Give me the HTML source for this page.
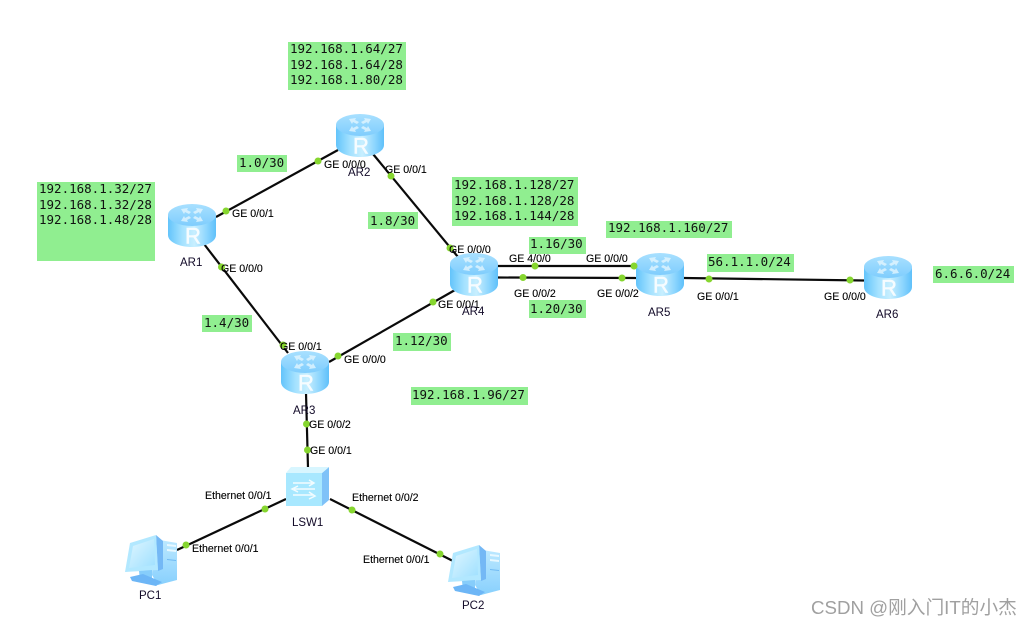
<!DOCTYPE html>
<html lang="zh">
<head>
<meta charset="utf-8">
<title>Network topology</title>
<style>
html,body{margin:0;padding:0;background:#fff;width:1033px;height:627px;overflow:hidden}
svg{display:block}
.b{fill:#90ee90}
.m{font-family:"DejaVu Sans Mono","Liberation Mono",monospace;font-size:12.5px;fill:#111}
.l{font-family:"Liberation Sans",Arial,sans-serif;font-size:10.6px;fill:#000;stroke:#000;stroke-width:.12}
.n{font-family:"Liberation Sans",Arial,sans-serif;font-size:11.5px;fill:#120a28}
.w{font-family:"Liberation Sans","Noto Sans CJK SC",sans-serif;font-size:18.7px;fill:#a0a0a0}
.c{stroke:#0a0a0a;stroke-width:2.200;fill:none}
.d{fill:#86d62f}
</style>
</head>
<body>
<svg width="1033" height="627" viewBox="0 0 1033 627" xmlns="http://www.w3.org/2000/svg">
<defs>
<linearGradient id="rb" x1="0" y1="0" x2="1" y2="0">
<stop offset="0" stop-color="#63c4fb"/><stop offset=".3" stop-color="#a5e2ff"/><stop offset=".55" stop-color="#c8efff"/><stop offset=".8" stop-color="#8ed6fe"/><stop offset="1" stop-color="#5fc0fa"/>
</linearGradient>
<linearGradient id="rt" x1="0" y1="0" x2="0" y2="1">
<stop offset="0" stop-color="#a8e0ff"/><stop offset="1" stop-color="#7fcdfd"/>
</linearGradient>
<linearGradient id="sc" x1="0" y1="0" x2="1" y2="1">
<stop offset="0" stop-color="#dff6ff"/><stop offset="1" stop-color="#9fe0ff"/>
</linearGradient>
<linearGradient id="tw" x1="0" y1="0" x2="0" y2="1">
<stop offset="0" stop-color="#bde9ff"/><stop offset="1" stop-color="#88d0fd"/>
</linearGradient>
<symbol id="router" width="48" height="43" viewBox="0 0 48 43" overflow="visible">
<path d="M0 11V31C0 38 11 43 24 43S48 38 48 31V11Z" fill="url(#rb)"/>
<ellipse cx="24" cy="11" rx="24" ry="11" fill="url(#rt)"/>
<g fill="#e8f8ff" opacity=".75">
<polygon points="13,5 20,4 19,6 23,8 21,10 17,8 16,10"/>
<polygon points="35,5 28,4 29,6 25,8 27,10 31,8 32,10"/>
<polygon points="13,17 20,18 19,16 23,14 21,12 17,14 16,12"/>
<polygon points="35,17 28,18 29,16 25,14 27,12 31,14 32,12"/>
</g>
<text x="25" y="39.500" text-anchor="middle" font-family="Liberation Sans,Arial,sans-serif" font-size="22" fill="#f6fcff" stroke="#f6fcff" stroke-width=".5">R</text>
</symbol>
<symbol id="pc" width="53" height="51" viewBox="0 0 53 51" overflow="visible">
<polygon points="30,4 53,8 53,45 34,50 28,40" fill="url(#tw)"/>
<polygon points="43,9 52,10 52,12 43,11" fill="#e8f8ff"/>
<polygon points="43,14 52,15 52,17 43,16" fill="#e8f8ff"/>
<polygon points="43,24 52,25 52,26 43,25" fill="#6fb9f3"/>
<polygon points="32,0 39,6 39,34 34,36" fill="#74b8f5"/>
<polygon points="6,8 32,0 34,35 1,37" fill="#b2e8ff"/>
<polygon points="9,11 30,4 31,30 5,33" fill="url(#sc)"/>
<polygon points="15,36 28,35 28,44 16,46" fill="#86cdfb"/>
<polygon points="6,42 19,39 38,47 32,51 8,46" fill="#6db6f6"/>
</symbol>
</defs>

<rect class="b" x="288" y="42" width="118" height="48"/>
<rect class="b" x="37" y="182" width="118" height="79"/>
<rect class="b" x="237" y="155" width="50" height="17"/>
<rect class="b" x="368" y="212" width="50" height="17"/>
<rect class="b" x="202" y="315" width="50" height="17"/>
<rect class="b" x="452" y="177" width="126" height="49"/>
<rect class="b" x="529" y="237" width="57" height="17"/>
<rect class="b" x="529" y="300" width="57" height="18"/>
<rect class="b" x="606" y="221" width="126" height="17"/>
<rect class="b" x="707" y="254" width="87" height="18"/>
<rect class="b" x="933" y="266" width="81" height="17"/>
<rect class="b" x="393" y="333" width="58" height="18"/>
<rect class="b" x="411" y="387" width="117" height="18"/>

<g class="m">
<text x="290" y="53">192.168.1.64/27</text>
<text x="290" y="69">192.168.1.64/28</text>
<text x="290" y="84">192.168.1.80/28</text>
<text x="39" y="193">192.168.1.32/27</text>
<text x="39" y="209">192.168.1.32/28</text>
<text x="39" y="224">192.168.1.48/28</text>
<text x="239" y="167">1.0/30</text>
<text x="370" y="225">1.8/30</text>
<text x="204" y="327">1.4/30</text>
<text x="454" y="189">192.168.1.128/27</text>
<text x="454" y="205">192.168.1.128/28</text>
<text x="454" y="220">192.168.1.144/28</text>
<text x="530" y="248">1.16/30</text>
<text x="530" y="313">1.20/30</text>
<text x="608" y="232">192.168.1.160/27</text>
<text x="708" y="266">56.1.1.0/24</text>
<text x="935" y="278">6.6.6.0/24</text>
<text x="395" y="345">1.12/30</text>
<text x="412" y="399">192.168.1.96/27</text>
</g>

<g class="c">
<line x1="216" y1="217" x2="338" y2="150"/>
<line x1="204" y1="244" x2="288" y2="353"/>
<line x1="373" y1="154" x2="458" y2="257"/>
<line x1="329" y1="362" x2="455" y2="290"/>
<line x1="306" y1="393" x2="308" y2="468"/>
<line x1="286" y1="499" x2="177" y2="550"/>
<line x1="330" y1="499" x2="453" y2="561"/>
<line x1="498" y1="266" x2="636" y2="266"/>
<line x1="498" y1="277.500" x2="636" y2="278"/>
<line x1="684" y1="278" x2="864" y2="280.500"/>
</g>

<use href="#router" x="168" y="204"/>
<use href="#router" x="336" y="114"/>
<use href="#router" x="281" y="351"/>
<use href="#router" x="450" y="253"/>
<use href="#router" x="636" y="253"/>
<use href="#router" x="864" y="256"/>

<polygon points="322,473 329,467 329,500 322,506" fill="#7fc2f8"/>
<polygon points="286,473 291,467 329,467 322,473" fill="#d8f6ff"/>
<rect x="286" y="473" width="36" height="33" fill="#a8e8ff"/>
<g fill="none" stroke="#f2fcff" stroke-width="1.500">
<path d="M293 483H313M309 480L314 483L309 486"/>
<path d="M315 489H294M298 486L292 489L298 492"/>
<path d="M293 495H313M309 492L315 496L309 499"/>
</g>

<use href="#pc" x="124" y="535"/>
<use href="#pc" x="447" y="545"/>

<g class="d">
<circle cx="226" cy="211" r="3.500"/><circle cx="221.500" cy="267" r="3.500"/>
<circle cx="318" cy="161" r="3.500"/><circle cx="391" cy="176" r="3.500"/>
<circle cx="283" cy="345" r="3.500"/><circle cx="338" cy="356" r="3.500"/><circle cx="306.500" cy="424" r="3.500"/>
<circle cx="307.500" cy="450" r="3.500"/><circle cx="265" cy="509" r="3.500"/><circle cx="352" cy="510" r="3.500"/>
<circle cx="186" cy="545" r="3.500"/><circle cx="440" cy="554" r="3.500"/>
<circle cx="450" cy="248" r="3.500"/><circle cx="433" cy="302" r="3.500"/><circle cx="535" cy="266" r="3.500"/><circle cx="523" cy="277.500" r="3.500"/>
<circle cx="634" cy="266" r="3.500"/><circle cx="622" cy="278" r="3.500"/><circle cx="709" cy="279" r="3.500"/>
<circle cx="850" cy="280" r="3.500"/>
</g>

<g class="l">
<text x="232" y="217">GE 0/0/1</text>
<text x="221" y="272">GE 0/0/0</text>
<text x="324" y="168">GE 0/0/0</text>
<text x="385" y="173">GE 0/0/1</text>
<text x="449" y="253">GE 0/0/0</text>
<text x="509" y="262">GE 4/0/0</text>
<text x="586" y="262">GE 0/0/0</text>
<text x="514" y="297">GE 0/0/2</text>
<text x="597" y="297">GE 0/0/2</text>
<text x="438" y="308">GE 0/0/1</text>
<text x="697" y="300">GE 0/0/1</text>
<text x="824" y="300">GE 0/0/0</text>
<text x="280" y="350">GE 0/0/1</text>
<text x="344" y="363">GE 0/0/0</text>
<text x="309" y="428">GE 0/0/2</text>
<text x="310" y="454">GE 0/0/1</text>
<text x="205" y="499">Ethernet 0/0/1</text>
<text x="352" y="501">Ethernet 0/0/2</text>
<text x="192" y="552">Ethernet 0/0/1</text>
<text x="363" y="563">Ethernet 0/0/1</text>
</g>
<g class="n">
<text x="180" y="266">AR1</text>
<text x="348" y="176">AR2</text>
<text x="293" y="414">AR3</text>
<text x="462" y="315">AR4</text>
<text x="648" y="316">AR5</text>
<text x="876" y="318">AR6</text>
<text x="292" y="526">LSW1</text>
<text x="139" y="599">PC1</text>
<text x="462" y="609">PC2</text>
</g>
<text class="w" x="811" y="614">CSDN @刚入门IT的小杰</text>
</svg>
</body>
</html>
